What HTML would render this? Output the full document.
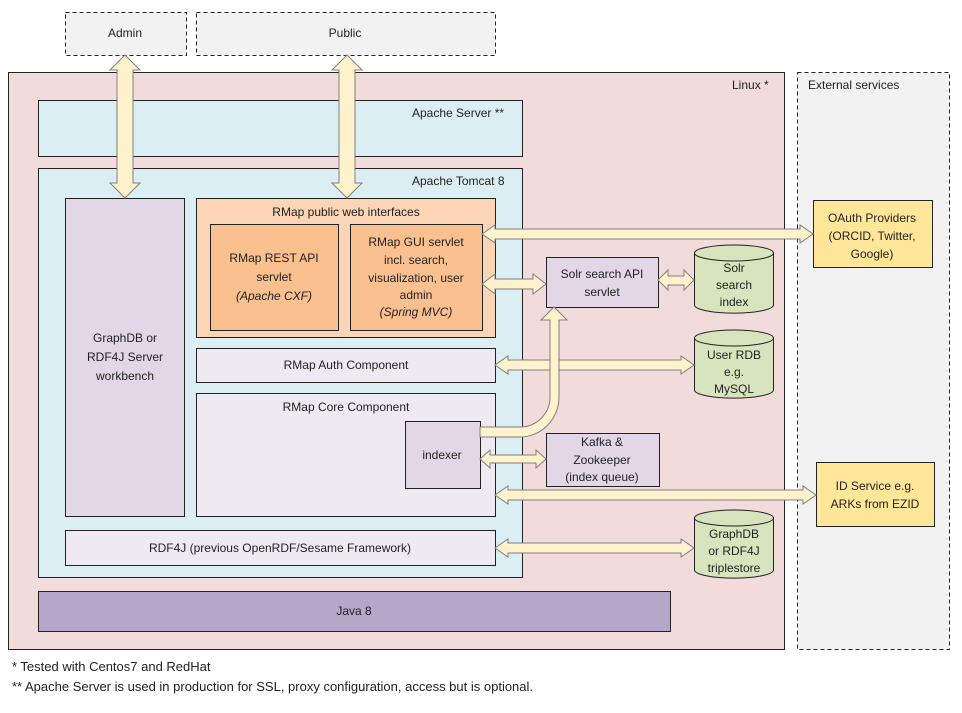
<!DOCTYPE html>
<html><head><meta charset="utf-8"><style>
body{margin:0;background:#fff;}
svg text{font-family:"Liberation Sans",sans-serif;font-size:12px;fill:#222;}
</style></head><body>
<svg width="962" height="708" viewBox="0 0 962 708" xmlns="http://www.w3.org/2000/svg">
<g stroke="#222" stroke-width="1">
<rect x="65.5" y="12.5" width="121" height="43" fill="#f2f2f2" stroke-dasharray="4,3"/>
<rect x="196.5" y="12.5" width="299" height="43" fill="#f2f2f2" stroke-dasharray="4,3"/>
<rect x="8.5" y="72.5" width="776" height="577" fill="#f2dcdb"/>
<rect x="797.5" y="72.5" width="152" height="577" fill="#f2f2f2" stroke-dasharray="4,3"/>
<rect x="38.5" y="100.5" width="484" height="56" fill="#dbeef3"/>
<rect x="38.5" y="168.5" width="484" height="409" fill="#dbeef3"/>
<rect x="65.5" y="198.5" width="119" height="318" fill="#e1d7e6"/>
<rect x="196.5" y="198.5" width="299" height="139" fill="#fbd5b5"/>
<rect x="210.5" y="224.5" width="128" height="106" fill="#fac090"/>
<rect x="350.5" y="224.5" width="132" height="106" fill="#fac090"/>
<rect x="196.5" y="348.5" width="299" height="34" fill="#efeaf2"/>
<rect x="196.5" y="393.5" width="299" height="123" fill="#efeaf2"/>
<rect x="405.5" y="421.5" width="75" height="67" fill="#e1d7e6"/>
<rect x="65.5" y="530.5" width="430" height="35" fill="#efeaf2"/>
<rect x="38.5" y="591.5" width="632" height="40" fill="#b4a7c9"/>
<rect x="546.5" y="257.5" width="112" height="50" fill="#e1d7e6"/>
<rect x="546.5" y="433.5" width="113" height="53" fill="#e1d7e6"/>
<rect x="813.5" y="200.5" width="119" height="67" fill="#ffe699"/>
<rect x="816.5" y="462.5" width="118" height="64" fill="#ffe699"/>
</g>
<g stroke="#222" fill="#d7e4bd">
<path d="M694.5,253 v52 a39,8 0 0 0 79,0 v-52"/><ellipse cx="734" cy="253" rx="39.5" ry="8"/>
<path d="M694.5,338 v52 a39,8 0 0 0 79,0 v-52"/><ellipse cx="734" cy="338" rx="39.5" ry="8"/>
<path d="M694.5,518 v52 a39,8 0 0 0 79,0 v-52"/><ellipse cx="734" cy="518" rx="39.5" ry="8"/>
</g>
<g fill="#fff2cc" stroke="#7f7f7f" stroke-width="1">
<!-- vertical arrows -->
<polygon points="125,55 140,70 133,70 133,183 140,183 125,198 110,183 117,183 117,70 110,70"/>
<polygon points="347,55 362,70 355,70 355,183 362,183 347,198 332,183 339,183 339,70 332,70"/>
<!-- horizontal -->
<polygon points="482,234 495,225 495,229 800,229 800,225 813,234 800,243 800,239 495,239 495,243"/>
<polygon points="482,284 495,274 495,279 533,279 533,274 546,284 533,294 533,289 495,289 495,294"/>
<polygon points="658,280 668,270 668,276 684,276 684,270 694,280 684,290 684,285 668,285 668,290"/>
<polygon points="495,365 508,356 508,360 681,360 681,356 694,365 681,374 681,370 508,370 508,374"/>
<polygon points="480,459 490,450 490,455 536,455 536,450 546,459 536,468 536,463 490,463 490,468"/>
<polygon points="495,495 508,486 508,490 803,490 803,486 816,495 803,504 803,500 508,500 508,504"/>
<polygon points="495,548 508,539 508,543 681,543 681,539 694,548 681,557 681,553 508,553 508,557"/>
<path d="M480,427 H520 A30,30 0 0 0 550,397 V320 H541 L554,307 L567,320 H559 V397 A39,40 0 0 1 520,437 H480 Z"/>
</g>
<g>
<text x="125" y="37" text-anchor="middle">Admin</text>
<text x="345" y="37" text-anchor="middle">Public</text>
<text x="732" y="89">Linux *</text>
<text x="808" y="89">External services</text>
<text x="412" y="117">Apache Server **</text>
<text x="412" y="185">Apache Tomcat 8</text>
<text x="125" y="342" text-anchor="middle">GraphDB or</text>
<text x="125" y="361" text-anchor="middle">RDF4J Server</text>
<text x="125" y="380" text-anchor="middle">workbench</text>
<text x="346" y="216" text-anchor="middle">RMap public web interfaces</text>
<text x="274" y="262" text-anchor="middle">RMap REST API</text>
<text x="274" y="281" text-anchor="middle">servlet</text>
<text x="274" y="300" text-anchor="middle" font-style="italic">(Apache CXF)</text>
<text x="416" y="246" text-anchor="middle">RMap GUI servlet</text>
<text x="416" y="264" text-anchor="middle">incl. search,</text>
<text x="416" y="282" text-anchor="middle">visualization, user</text>
<text x="416" y="299" text-anchor="middle">admin</text>
<text x="416" y="316" text-anchor="middle" font-style="italic">(Spring MVC)</text>
<text x="346" y="369" text-anchor="middle">RMap Auth Component</text>
<text x="346" y="411" text-anchor="middle">RMap Core Component</text>
<text x="442" y="459" text-anchor="middle">indexer</text>
<text x="280" y="552" text-anchor="middle">RDF4J (previous OpenRDF/Sesame Framework)</text>
<text x="354" y="615" text-anchor="middle">Java 8</text>
<text x="602" y="278" text-anchor="middle">Solr search API</text>
<text x="602" y="296" text-anchor="middle">servlet</text>
<text x="602" y="446" text-anchor="middle">Kafka &amp;</text>
<text x="602" y="464" text-anchor="middle">Zookeeper</text>
<text x="602" y="481" text-anchor="middle">(index queue)</text>
<text x="734" y="272" text-anchor="middle">Solr</text>
<text x="734" y="289" text-anchor="middle">search</text>
<text x="734" y="306" text-anchor="middle">index</text>
<text x="734" y="359" text-anchor="middle">User RDB</text>
<text x="734" y="376" text-anchor="middle">e.g.</text>
<text x="734" y="393" text-anchor="middle">MySQL</text>
<text x="734" y="538" text-anchor="middle">GraphDB</text>
<text x="734" y="555" text-anchor="middle">or RDF4J</text>
<text x="734" y="572" text-anchor="middle">triplestore</text>
<text x="872" y="222" text-anchor="middle">OAuth Providers</text>
<text x="872" y="240" text-anchor="middle">(ORCID, Twitter,</text>
<text x="872" y="258" text-anchor="middle">Google)</text>
<text x="875" y="490" text-anchor="middle">ID Service e.g.</text>
<text x="875" y="508" text-anchor="middle">ARKs from EZID</text>
<text x="12" y="671" style="font-size:13px">* Tested with Centos7 and RedHat</text>
<text x="12" y="691" style="font-size:13px">** Apache Server is used in production for SSL, proxy configuration, access but is optional.</text>
</g>
</svg>
</body></html>
